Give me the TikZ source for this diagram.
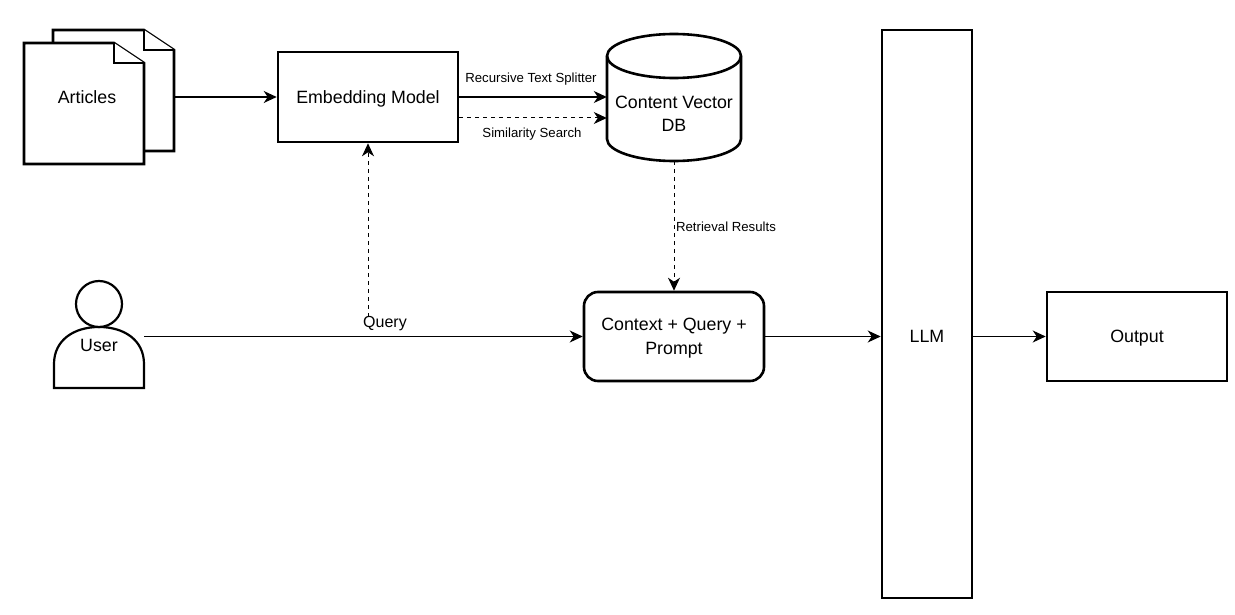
\documentclass[tikz,border=0pt]{standalone}
\usepackage{fontspec}
\setmainfont{Liberation Sans}
\usetikzlibrary{arrows.meta}
\tikzset{
  shapeline/.style={draw=black,line width=2.6pt,line join=miter,fill=white},
  boxnode/.style={shapeline,minimum width=180pt,minimum height=89pt,inner sep=0pt,align=center,text depth=0pt,font=\fontsize{17.8}{24}\selectfont},
  slot/.style={inner sep=0pt,align=center,font=\fontsize{17.8}{23}\selectfont},
  conn/.style={draw=black,line width=1.2pt,-{Stealth[length=13pt,width=12pt,inset=4pt]}},
  dashconn/.style={conn,line width=1pt,dash pattern=on 4pt off 4pt},
  lab/.style={inner sep=0pt,font=\fontsize{13.2}{15}\selectfont},
  qlab/.style={inner sep=0pt,font=\fontsize{16}{18}\selectfont}
}
\begin{document}
\begin{tikzpicture}[x=1pt,y=-1pt]
\useasboundingbox (0,0) rectangle (1235,615);
% back document
\draw[shapeline] (53,30) -- (144,30) -- (174,50) -- (174,151) -- (53,151) -- cycle;
\draw[shapeline] (144,30) -- (144,50) -- (174,50);
\node[minimum width=121pt,minimum height=121pt,inner sep=0pt] (back) at (113.5,90.5) {};
% front document
\draw[shapeline] (24,43) -- (114,43) -- (144,63) -- (144,164) -- (24,164) -- cycle;
\draw[shapeline] (114,43) -- (114,63) -- (144,63);
\node[slot] (articles) at (87,97) {Articles};
% embedding
\node[boxnode,minimum height=90pt] (emb) at (368,97) {Embedding Model};
% database
\draw[shapeline] (607,56) -- (607,139) arc[start angle=180,end angle=0,x radius=67,y radius=22] -- (741,56)
  arc[start angle=0,end angle=-180,x radius=67,y radius=22] -- cycle;
\draw[shapeline,fill=none] (607,56) arc[start angle=180,end angle=0,x radius=67,y radius=22];
\node[minimum width=134pt,minimum height=127pt,inner sep=0pt] (db) at (674,97.5) {};
\node[slot] (dbtext) at (674,114) {Content Vector\\DB};
% user
\draw[shapeline,line width=2.2pt] (54,388) -- (54,364) .. controls (54,340) and (74,327) .. (99,327)
  .. controls (124,327) and (144,340) .. (144,364) -- (144,388) -- cycle;
\draw[shapeline,line width=2.2pt] (99,304) circle[radius=23];
\node[minimum width=90pt,minimum height=105pt,inner sep=0pt] (user) at (99,336) {};
\node[slot] (usertext) at (99,345) {User};
% boxes
\node[boxnode,rounded corners=14pt] (ctx) at (674,336.5) {Context + Query +\\Prompt};
\node[shapeline,minimum width=90pt,minimum height=568pt,inner sep=0pt] (llm) at (927,314) {};
\node[slot] (llmtext) at (927,336) {LLM};
\node[boxnode] (out) at (1137,336.5) {Output};
% labels
\node[lab] (l1) at (531,79) {Recursive Text Splitter};
\node[lab] (l2) at (532,134) {Similarity Search};
\node[lab] (l3) at (726,227) {Retrieval Results};
\node[qlab] (l4) at (385,324) {Query};
% connectors
\draw[conn] (back.east |- emb.west) -- (emb.west);
\draw[conn] (emb.east) -- (emb.east -| db.west);
\draw[dashconn] ([yshift=-21pt]emb.east) -- ([yshift=-21pt]emb.east -| db.west);
\draw[dashconn] (db.south) -- (ctx.north);
\draw[dashconn] (emb.south |- l4.north) -- (emb.south);
\draw[conn] (user.east |- ctx.west) -- (ctx.west);
\draw[conn] (ctx.east) -- (ctx.east -| llm.west);
\draw[conn] (llm.east |- out.west) -- (out.west);
\end{tikzpicture}
\end{document}
